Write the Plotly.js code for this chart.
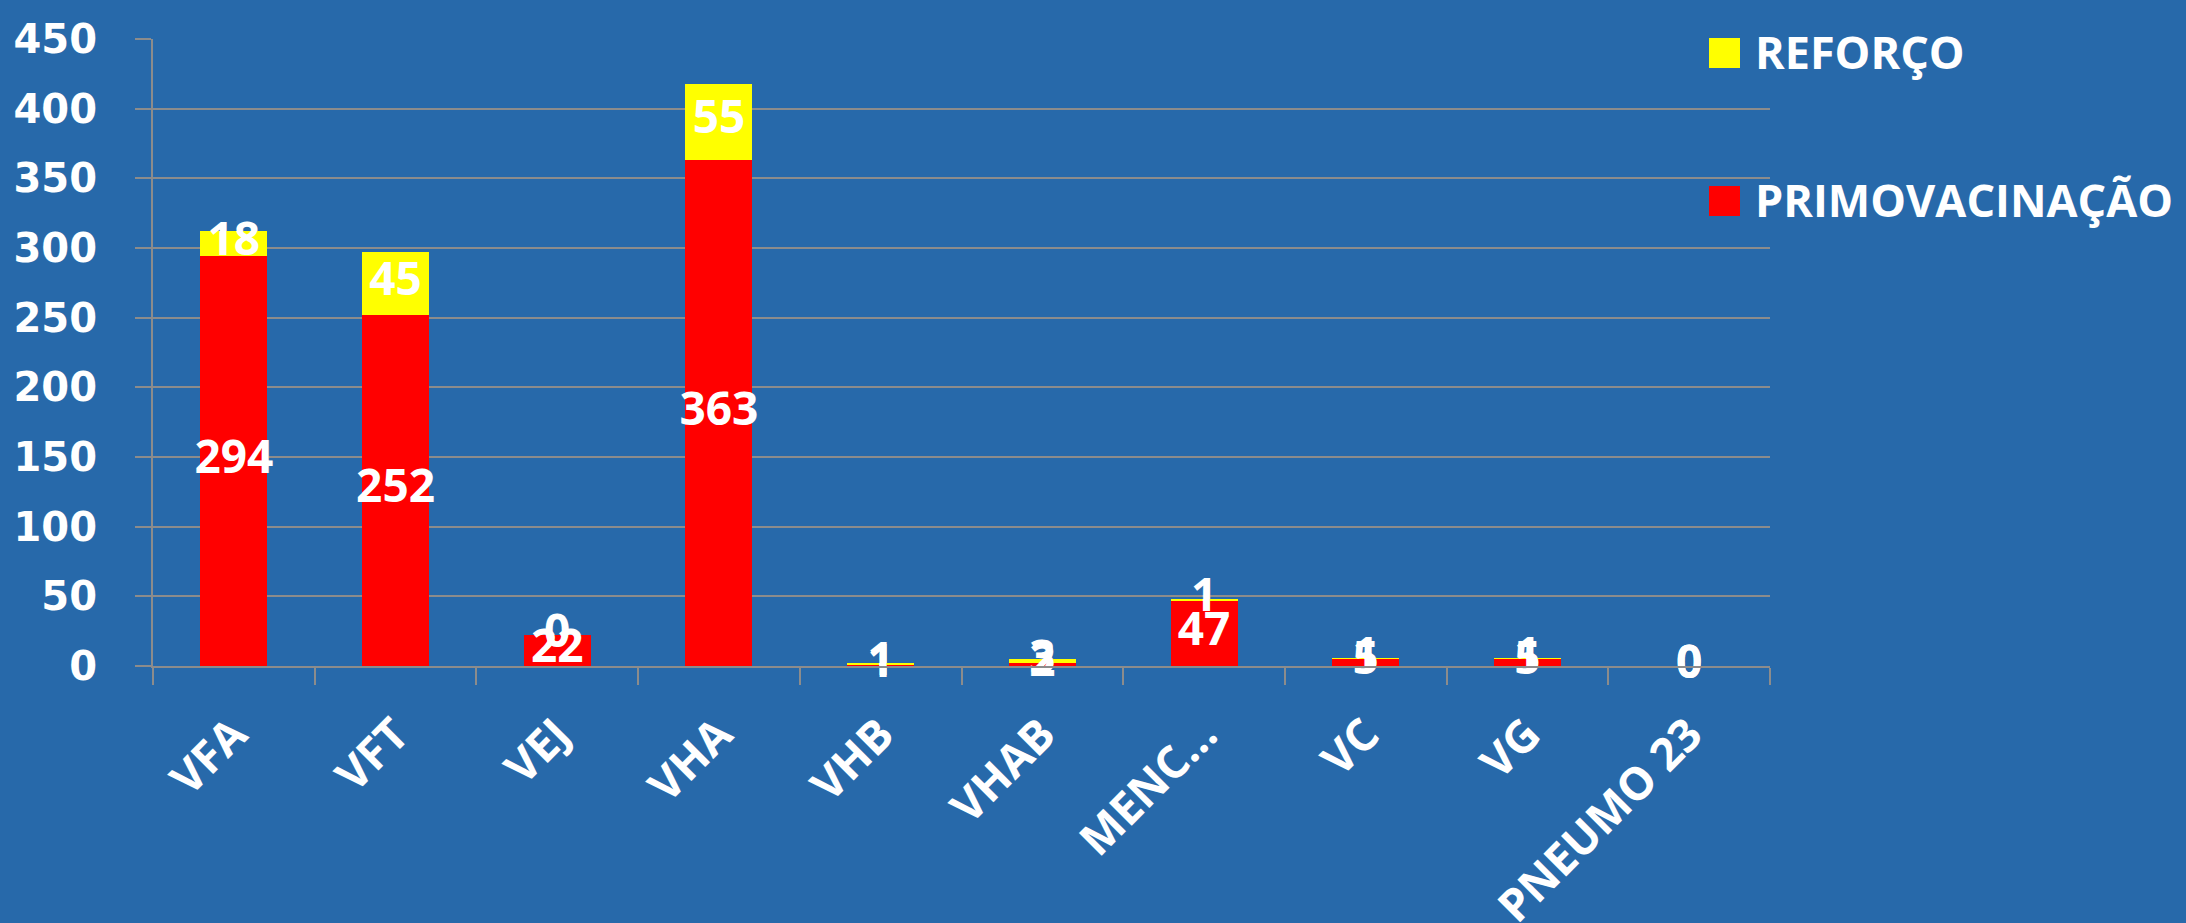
<!DOCTYPE html>
<html>
<head>
<meta charset="utf-8">
<script src="https://cdn.plot.ly/plotly-3.0.1.min.js"></script>
<style>html,body{margin:0;padding:0;background:#2769AA;}#chart{width:2186px;height:923px;}</style>
</head>
<body>
<div id="chart"></div>
<script>
const categories = ['VFA','VFT','VEJ','VHA','VHB','VHAB','MENC…','VC','VG','PNEUMO 23'];
const primovacinacao = [294, 252, 22, 363, 1, 2, 47, 5, 5, 0];
const reforco = [18, 45, 0, 55, 1, 3, 1, 1, 1, 0];
const seriesNames = ['PRIMOVACINAÇÃO', 'REFORÇO'];
const seriesColors = ['#FF0000', '#FFFF00'];
const yTicks = [0, 50, 100, 150, 200, 250, 300, 350, 400, 450];

const bg = '#2769AA';
const grid = '#8C8C8C';
const labelFont = {family: 'Open Sans', size: 46, color: '#FFFFFF', weight: 700};

const traces = [
  {type: 'bar', x: categories, y: primovacinacao, name: seriesNames[0],
   marker: {color: seriesColors[0]}, hoverinfo: 'none', showlegend: false},
  {type: 'bar', x: categories, y: reforco, name: seriesNames[1],
   marker: {color: seriesColors[1]}, hoverinfo: 'none', showlegend: false},
  {type: 'scatter', mode: 'text', x: categories,
   y: primovacinacao.map(v => v / 2),
   text: primovacinacao.map(String), textposition: 'middle center',
   textfont: labelFont, hoverinfo: 'none', showlegend: false, cliponaxis: false},
  {type: 'scatter', mode: 'text', x: categories,
   y: reforco.map((v, i) => primovacinacao[i] + v / 2),
   text: reforco.map(String), textposition: 'middle center',
   textfont: labelFont, hoverinfo: 'none', showlegend: false, cliponaxis: false}
];

// custom legend (REFORÇO on top, PRIMOVACINAÇÃO below)
const legendOrder = [1, 0];
const legendTop = [1, -147];
const shapes = legendOrder.map((s, k) => ({
  type: 'rect', xref: 'paper', yref: 'paper',
  xsizemode: 'pixel', ysizemode: 'pixel', xanchor: 1, yanchor: 1,
  x0: -61, x1: -30, y0: legendTop[k], y1: legendTop[k] - 30,
  fillcolor: seriesColors[s], line: {width: 0}
}));
const annotations = legendOrder.map((s, k) => ({
  xref: 'paper', yref: 'paper', x: 1, y: 1,
  xshift: -17, yshift: legendTop[k] - 13,
  xanchor: 'left', yanchor: 'middle', showarrow: false,
  text: seriesNames[s],
  font: {family: 'Open Sans', size: 45, color: '#FFFFFF', weight: 700}
}));

const layout = {
  width: 2186, height: 923,
  paper_bgcolor: bg, plot_bgcolor: bg,
  margin: {l: 153, r: 416, t: 39, b: 257, pad: 0},
  barmode: 'stack', bargap: 0.586,
  showlegend: false,
  xaxis: {
    type: 'category', tickson: 'boundaries',
    ticks: 'outside', ticklen: 17, tickwidth: 2, tickcolor: grid,
    showline: true, linecolor: grid, linewidth: 2,
    tickangle: -45, ticklabelstandoff: 22,
    tickfont: {family: 'Open Sans', size: 45, color: '#FFFFFF', weight: 700},
    automargin: false, fixedrange: true, showgrid: false, zeroline: false
  },
  yaxis: {
    range: [0, 450], tickvals: yTicks, ticktext: yTicks.map(String),
    showgrid: true, gridcolor: grid, gridwidth: 2,
    showline: true, linecolor: grid, linewidth: 2,
    ticks: 'outside', ticklen: 16, tickwidth: 2, tickcolor: grid,
    ticklabelstandoff: 30,
    tickfont: {family: 'DejaVu Sans', size: 40, color: '#FFFFFF', weight: 700},
    automargin: false, fixedrange: true, zeroline: false
  },
  shapes: shapes,
  annotations: annotations
};

Plotly.newPlot('chart', traces, layout, {displayModeBar: false, staticPlot: true});
</script>
</body>
</html>
